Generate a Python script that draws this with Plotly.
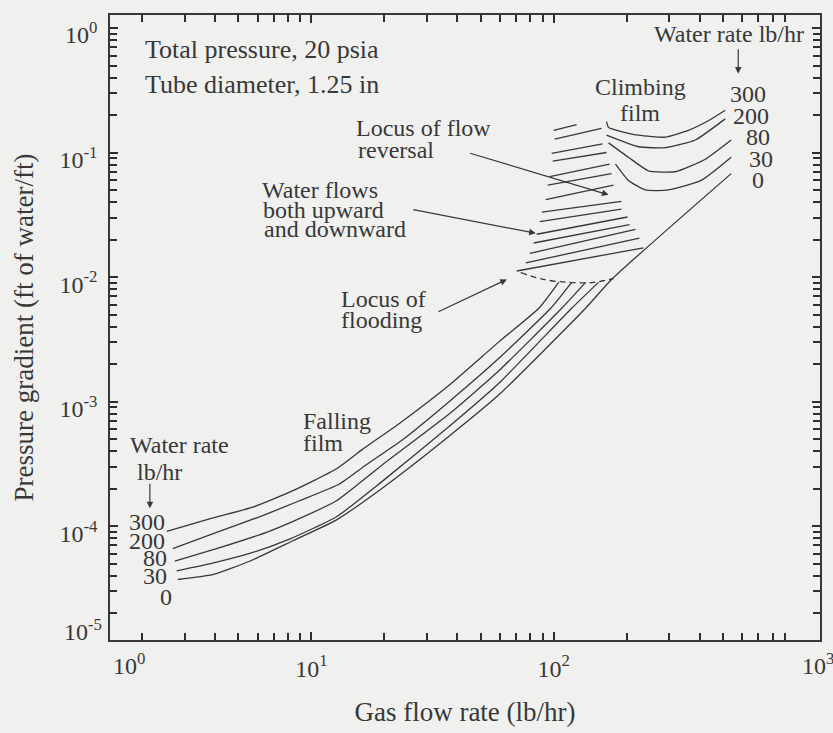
import plotly.graph_objects as go

# ---------------- data (gas flow rate lb/hr, pressure gradient ft water/ft) -------------
# Falling-film curves, water rate 300 / 200 / 80 / 30 / 0 lb/hr
ff300_x = [2.53, 3.80, 5.72, 8.35, 12.7, 16.2, 23.0, 37.0, 59.4, 86.8, 104.9]
ff300_y = [9.08e-5, 1.145e-4, 1.42e-4, 1.92e-4, 2.89e-4, 4.12e-4, 6.65e-4, 1.355e-3, 3.02e-3, 5.62e-3, 9.08e-3]
ff200_x = [2.68, 4.06, 6.11, 8.93, 13.0, 16.8, 23.7, 37.0, 59.4, 97.2, 118.6]
ff200_y = [6.60e-5, 8.93e-5, 1.19e-4, 1.60e-4, 2.17e-4, 3.10e-4, 4.92e-4, 1.0e-3, 2.23e-3, 5.62e-3, 9.08e-3]
ff80_x = [2.73, 4.06, 6.53, 8.68, 12.7, 19.6, 37.0, 59.4, 107.9, 135.4]
ff80_y = [5.23e-5, 6.60e-5, 8.93e-5, 1.124e-4, 1.60e-4, 3.10e-4, 7.95e-4, 1.77e-3, 5.62e-3, 9.08e-3]
ff30_x = [2.78, 3.91, 5.56, 8.12, 12.7, 19.6, 37.0, 59.4, 118.6, 153.1]
ff30_y = [4.38e-5, 5.05e-5, 6.04e-5, 7.88e-5, 1.19e-4, 2.29e-4, 6.31e-4, 1.404e-3, 5.62e-3, 9.08e-3]
ff0_x = [2.81, 3.91, 5.56, 8.35, 12.7, 19.6, 37.0, 59.4, 135.4, 173.3, 540.1]
ff0_y = [3.73e-5, 4.08e-5, 5.23e-5, 7.60e-5, 1.124e-4, 2.02e-4, 5.28e-4, 1.134e-3, 5.62e-3, 9.58e-3, 6.78e-2]

# Climbing-film curves, water rate 300 / 200 / 80 / 30 lb/hr
cf300_x = [165.2, 168.4, 223.8, 289.0, 359.4, 434.4, 510.3]
cf300_y = [0.1770, 0.1590, 0.1379, 0.1331, 0.1508, 0.1801, 0.2190]
cf200_x = [165.2, 223.8, 289.0, 384.0, 510.3]
cf200_y = [0.1379, 0.1114, 0.1095, 0.1263, 0.1866]
cf80_x = [168.4, 203.6, 246.0, 317.8, 422.2, 540.1]
cf80_y = [0.1197, 0.0917, 0.0714, 0.0702, 0.0885, 0.1263]
cf30_x = [179.9, 203.6, 239.1, 297.4, 406.5, 540.1]
cf30_y = [0.0809, 0.0598, 0.0501, 0.0501, 0.0598, 0.0917]

# Hatching: region where water flows both upward and downward (segment ends)
hatch_x0 = [100.0, 100.9, 98.1, 99.1, 96.3, 94.5, 92.7, 89.3, 87.6, 85.1, 82.7, 79.7, 76.7, 70.4]
hatch_y0 = [0.1508, 0.1285, 0.0984, 0.0854, 0.0642, 0.0547, 0.0419, 0.0333, 0.0279, 0.0221, 0.0188, 0.0155, 0.0130, 0.0112]
hatch_x1 = [124.4, 157.6, 159.1, 165.2, 170.0, 173.3, 176.6, 190.5, 190.5, 201.7, 205.5, 217.5, 225.9, 234.6]
hatch_y1 = [0.1678, 0.1562, 0.1176, 0.1002, 0.0809, 0.0678, 0.0547, 0.0405, 0.0351, 0.0304, 0.0264, 0.0242, 0.0206, 0.0172]

# Locus of flooding (dashed)
flood_x = [73.1, 91.0, 115.3, 146.1, 176.6]
flood_y = [0.01085, 0.00958, 0.00908, 0.00908, 0.00975]

water_rates = ["300", "200", "80", "30", "0"]

# axis ticks
x_major = [10, 100]
x_major_text = ["10<sup>1</sup>", "10<sup>2</sup>"]
y_major = [1, 0.1, 0.01, 0.001, 0.0001]
y_major_text = ["10<sup>0</sup>", "10<sup>-1</sup>", "10<sup>-2</sup>", "10<sup>-3</sup>", "10<sup>-4</sup>"]
x_minor = [m * 10 ** d for d in range(0, 3) for m in range(2, 10)]
y_minor = [m * 10.0 ** d for d in range(-5, 0) for m in range(2, 10)]

# ---------------- styling -------------
BG = "#f0f0ee"
INK = "#383838"
TICK = "#2e2e2e"
FONT = "Liberation Serif, Times New Roman, serif"
FS = 26

W, H = 833, 733
ML, MR, MT, MB = 110, 11, 15, 68
PW, PH = W - ML - MR, H - MT - MB


def paper(px, py):
    return (px - ML) / PW, (H - MB - py) / PH


fig = go.Figure()

line_style = dict(color=INK, width=1.3, shape="spline", smoothing=0.5)
for xs, ys, name in [(ff300_x, ff300_y, "300"), (ff200_x, ff200_y, "200"), (ff80_x, ff80_y, "80"),
                     (ff30_x, ff30_y, "30"), (ff0_x, ff0_y, "0")]:
    fig.add_trace(go.Scatter(x=xs, y=ys, mode="lines", line=line_style, name=f"Falling film {name}",
                             showlegend=False, hoverinfo="skip"))
for xs, ys, name in [(cf300_x, cf300_y, "300"), (cf200_x, cf200_y, "200"), (cf80_x, cf80_y, "80"),
                     (cf30_x, cf30_y, "30")]:
    fig.add_trace(go.Scatter(x=xs, y=ys, mode="lines", line=line_style, name=f"Climbing film {name}",
                             showlegend=False, hoverinfo="skip"))

hx, hy = [], []
for a, b, c, d in zip(hatch_x0, hatch_y0, hatch_x1, hatch_y1):
    hx += [a, c, None]
    hy += [b, d, None]
fig.add_trace(go.Scatter(x=hx, y=hy, mode="lines", line=dict(color=INK, width=1.3),
                         showlegend=False, hoverinfo="skip"))
fig.add_trace(go.Scatter(x=flood_x, y=flood_y, mode="lines",
                         line=dict(color=INK, width=1.3, dash="6px,4px", shape="spline"),
                         showlegend=False, hoverinfo="skip"))

# ---------------- text -------------
def text(s, px, py, anchor="left", size=FS):
    x, y = paper(px, py)
    fig.add_annotation(x=x, y=y, xref="paper", yref="paper", text=s, showarrow=False,
                       xanchor=anchor, yanchor="middle", font=dict(family=FONT, size=size, color=INK))


def arrow(tail, tip, head=2):
    x, y = paper(*tip)
    fig.add_annotation(x=x, y=y, xref="paper", yref="paper", text="", showarrow=True,
                       ax=tail[0] - tip[0], ay=tail[1] - tip[1], arrowhead=head, arrowsize=1.1,
                       arrowwidth=1.2, arrowcolor=INK)


text("Total pressure, 20 psia", 143, 51)
text("Tube diameter, 1.25 in", 143, 87)
text("Locus of flow", 355, 133, size=24)
text("reversal", 357, 155, size=24)
text("Water flows", 260, 197, size=24)
text("both upward", 261, 218, size=24)
text("and downward", 262, 238, size=24)
text("Locus of", 340, 310, size=24)
text("flooding", 340, 332, size=24)
text("Climbing", 642, 90, "center", 24)
text("film", 641, 117, "center", 24)
text("Falling", 302, 437, size=24)
text("film", 302, 460, size=24)
text("Water rate lb/hr", 808, 35, "right", 24)
text("Water rate", 128, 462, size=24)
text("lb/hr", 135, 490, size=24)

for s, px, py in zip(water_rates, [750, 753, 760, 763, 760], [97, 120, 142, 165, 187]):
    text(s, px, py, "center", 24)
for s, px, py in zip(water_rates, [147, 147, 155, 155, 166], [542, 562, 580, 598, 620]):
    text(s, px, py, "center", 24)

arrow((470, 160), (610, 202))
arrow((413, 218), (537, 242))
arrow((438, 323), (508, 290))
arrow((740, 50), (740, 76))
arrow((150, 502), (150, 528))

# corner axis labels
text("10<sup>0</sup>", 129, 690, "center", 24)
text("10<sup>3</sup>", 820, 690, "center", 24)
text("10<sup>-5</sup>", 83, 655, "center", 24)

axis_common = dict(type="log", showgrid=False, zeroline=False, showline=True, linecolor=INK,
                   linewidth=1.5, mirror="ticks", ticks="inside", ticklen=8, tickwidth=1.7,
                   tickcolor=TICK, tickfont=dict(family=FONT, size=24, color=INK))
minor_common = dict(tickmode="array", ticks="inside", ticklen=7, tickwidth=1.6, tickcolor=TICK,
                    showgrid=False)

fig.update_layout(
    width=W, height=H, margin=dict(l=ML, r=MR, t=MT, b=MB),
    paper_bgcolor=BG, plot_bgcolor=BG, showlegend=False,
    xaxis=dict(**axis_common, range=[0.169, 3.099], tickmode="array", tickvals=x_major,
               ticktext=x_major_text, ticklabelstandoff=6,
               minor=dict(**minor_common, tickvals=x_minor),
               title=dict(text="Gas flow rate (lb/hr)", font=dict(family=FONT, size=27, color=INK),
                          standoff=22)),
    yaxis=dict(**axis_common, range=[-4.914, 0.105], tickmode="array", tickvals=y_major,
               ticktext=y_major_text, ticklabelstandoff=6, ticklabelshift=7,
               minor=dict(**minor_common, tickvals=y_minor),
               title=dict(text="Pressure gradient (ft of water/ft)",
                          font=dict(family=FONT, size=27, color=INK), standoff=18)),
)

fig.write_html("out.html")
